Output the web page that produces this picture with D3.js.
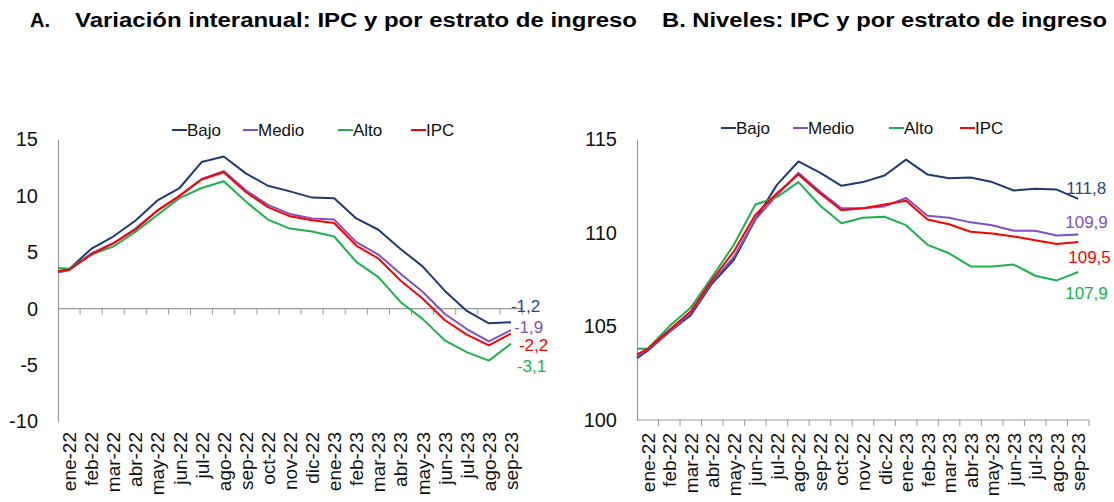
<!DOCTYPE html>
<html><head><meta charset="utf-8">
<script src="https://cdn.jsdelivr.net/npm/d3@7"></script>
<style>
body{margin:0;background:#fff;}
svg{display:block;font-family:Arial,"Liberation Sans",sans-serif;}
</style></head>
<body><svg id="c" width="1114" height="502"></svg>
<script>
// ---- data ----
const meses = ["ene-22","feb-22","mar-22","abr-22","may-22","jun-22","jul-22","ago-22","sep-22","oct-22","nov-22","dic-22","ene-23","feb-23","mar-23","abr-23","may-23","jun-23","jul-23","ago-23","sep-23"];
const series = ["Bajo","Medio","Alto","IPC"];
// A. Variación interanual (%)
const varBajo  = [3.5,5.3,6.4,7.8,9.6,10.7,13.0,13.5,12.0,10.9,10.4,9.85,9.8,8.0,7.0,5.3,3.75,1.6,-0.2,-1.3,-1.2];
const varMedio = [3.4,4.9,5.8,7.1,8.7,10.0,11.5,12.2,10.5,9.2,8.4,8.0,7.9,5.9,4.8,3.1,1.5,-0.45,-1.8,-2.9,-1.9];
const varAlto  = [3.55,4.8,5.5,6.8,8.3,9.8,10.7,11.3,9.5,7.9,7.1,6.85,6.4,4.15,2.8,0.6,-0.9,-2.8,-3.85,-4.6,-3.1];
const varIPC   = [3.45,4.8,5.8,7.0,8.7,10.0,11.45,12.1,10.35,9.0,8.2,7.85,7.6,5.6,4.45,2.5,0.9,-1.0,-2.3,-3.25,-2.2];
const varInicio = [3.3,3.2,3.6,3.35];   // Bajo, Medio, Alto, IPC at axis origin
// B. Niveles (índice)
const nivBajo  = [103.7,104.7,105.6,107.3,108.55,110.7,112.55,113.8,113.2,112.5,112.7,113.05,113.9,113.1,112.9,112.95,112.7,112.25,112.35,112.3,111.8];
const nivMedio = [103.75,104.7,105.7,107.4,108.7,110.7,112.0,113.2,112.2,111.3,111.3,111.4,111.85,110.9,110.8,110.55,110.4,110.1,110.1,109.85,109.9];
const nivAlto  = [103.8,105.0,106.0,107.65,109.35,111.5,111.9,112.7,111.45,110.5,110.8,110.85,110.4,109.35,108.9,108.2,108.2,108.3,107.7,107.45,107.9];
const nivIPC   = [103.8,104.8,105.8,107.5,109.0,110.95,112.1,113.1,112.1,111.2,111.3,111.5,111.7,110.7,110.45,110.05,109.95,109.8,109.6,109.4,109.5];
const nivInicio = [103.3,103.4,103.8,103.5];
const ticksA = [-10,-5,0,5,10,15];
const ticksB = [100,105,110,115];
const tituloA = "Variación interanual: IPC y por estrato de ingreso";
const tituloB = "B. Niveles: IPC y por estrato de ingreso";

// ---- styles ----
const colores = {Bajo:"#1f3a75", Medio:"#7e52c0", Alto:"#1eb14e", IPC:"#ff0000"};
const labelColors = {Bajo:"#2c4688", Medio:"#7e52c0", Alto:"#1eb14e", IPC:"#ff0000"};
const fmt = v => d3.format(".1f")(v).replace(".", ",").replace("\u2212", "-");
const fmtTick = v => String(v);

const svg = d3.select("#c");

// titles
svg.append("text").attr("x",30).attr("y",27).attr("font-size",20).attr("font-weight","bold").text("A.");
svg.append("text").attr("x",75).attr("y",27).attr("font-size",20).attr("font-weight","bold")
  .attr("textLength",562).attr("lengthAdjust","spacingAndGlyphs").text(tituloA);
svg.append("text").attr("x",662).attr("y",27).attr("font-size",20).attr("font-weight","bold")
  .attr("textLength",445).attr("lengthAdjust","spacingAndGlyphs").text(tituloB);

function panel(cfg){
  const g = svg.append("g");
  const x = d3.scaleBand().domain(meses).range(cfg.xRange);
  const y = d3.scaleLinear().domain(cfg.yDomain).range(cfg.yRange);
  const xc = m => x(m) + x.bandwidth()/2;
  const x0 = cfg.xRange[0];

  // vertical axis (no ticks)
  const yAxis = d3.axisLeft(y).tickValues(cfg.ticks).tickFormat(fmtTick).tickSize(0).tickPadding(20);
  const ya = g.append("g").attr("transform",`translate(${x0},0)`).call(yAxis);
  ya.select(".domain").attr("stroke","#9a9a9a").attr("stroke-width",1.2);
  ya.selectAll("text").attr("font-size",20).attr("fill","#111").attr("font-family","Arial, 'Liberation Sans', sans-serif");

  // horizontal axis line at baseline with ticks at band boundaries
  const yb = y(cfg.base);
  g.append("line").attr("x1",x0).attr("x2",cfg.xRange[1]).attr("y1",yb).attr("y2",yb)
    .attr("stroke","#9a9a9a").attr("stroke-width",1.2);
  g.selectAll(".tk").data(meses).join("line").attr("class","tk")
    .attr("x1",d=>x(d)+x.bandwidth()).attr("x2",d=>x(d)+x.bandwidth())
    .attr("y1",yb).attr("y2",yb+6).attr("stroke","#9a9a9a").attr("stroke-width",1);

  // x labels, rotated
  g.selectAll(".xl").data(meses).join("text").attr("class","xl")
    .attr("transform",d=>`translate(${xc(d)+7},${cfg.labelTop}) rotate(-90)`)
    .attr("text-anchor","end").attr("font-size",19).attr("fill","#111").text(d=>d);

  // lines
  const line = d3.line().x(d=>d.x).y(d=>y(d.v));
  cfg.data.forEach((s,i)=>{
    const pts = [{x:x0, v:s.inicio}].concat(s.vals.map((v,j)=>({x:xc(meses[j]), v})));
    g.append("path").datum(pts).attr("d",line).attr("fill","none")
      .attr("stroke",colores[s.name]).attr("stroke-width",2).attr("stroke-linejoin","round");
    const last = s.vals[s.vals.length-1];
    g.append("text").attr("x",xc(meses[meses.length-1]) + cfg.lblDx[i])
      .attr("y",y(last) + cfg.lblDy[i]).attr("dy","0.35em")
      .attr("font-size",17).attr("fill",labelColors[s.name]).text(fmt(last));
  });

  // legend
  const lg = g.append("g");
  cfg.legendX.forEach((lx,i)=>{
    const n = series[i];
    lg.append("line").attr("x1",lx).attr("x2",lx+15).attr("y1",cfg.legendY).attr("y2",cfg.legendY)
      .attr("stroke",colores[n]).attr("stroke-width",2);
    lg.append("text").attr("x",lx+15).attr("y",cfg.legendY).attr("dy","0.35em")
      .attr("font-size",17).attr("fill","#111").text(n);
  });
}

panel({
  xRange:[58,522], yDomain:[-10,15], yRange:[421.5,139.5], ticks:ticksA, base:0, labelTop:432,
  data:[
    {name:"Bajo", vals:varBajo, inicio:varInicio[0]},
    {name:"Medio", vals:varMedio, inicio:varInicio[1]},
    {name:"Alto", vals:varAlto, inicio:varInicio[2]},
    {name:"IPC", vals:varIPC, inicio:varInicio[3]}
  ],
  lblDx:[0,3,6,8], lblDy:[-16,-3,22,12],
  legendX:[172,243,338,411], legendY:130
});

panel({
  xRange:[637,1089], yDomain:[100,115], yRange:[420,139], ticks:ticksB, base:100, labelTop:433,
  data:[
    {name:"Bajo", vals:nivBajo, inicio:nivInicio[0]},
    {name:"Medio", vals:nivMedio, inicio:nivInicio[1]},
    {name:"Alto", vals:nivAlto, inicio:nivInicio[2]},
    {name:"IPC", vals:nivIPC, inicio:nivInicio[3]}
  ],
  lblDx:[-12,-13,-13,-10], lblDy:[-11,-12,21,15],
  legendX:[721,793,889,960], legendY:128
});
</script></body></html>
